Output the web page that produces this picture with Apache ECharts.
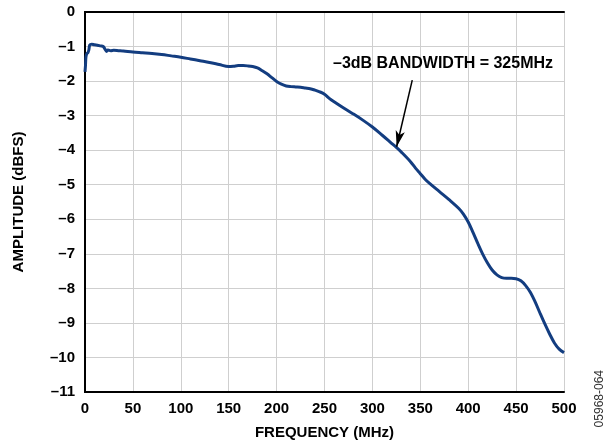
<!DOCTYPE html>
<html>
<head>
<meta charset="utf-8">
<script src="https://cdn.jsdelivr.net/npm/echarts@6/dist/echarts.min.js"></script>
<style>html,body{margin:0;padding:0;background:#fff}#c{width:613px;height:448px}</style>
</head>
<body>
<div id="c"></div>
<script>
const freqMHz = [0,0.5,1,2,3,4,5,7,10,13,16,19,21,22.5,24,27,30,35,40,50,60,70,80,90,100,110,120,130,140,150,155,160,165,170,175,180,185,190,195,200,205,210,215,220,225,230,235,240,245,250,255,260,270,280,290,300,310,320,325,330,340,345,350,355,360,370,380,390,395,400,405,410,415,420,425,430,435,440,445,450,455,460,465,470,475,480,485,490,495,500];
const amplitude = [-1.73,-1.55,-1.3,-1.2,-1.18,-1.1,-0.95,-0.93,-0.95,-0.96,-0.98,-1.0,-1.08,-1.14,-1.1,-1.12,-1.11,-1.12,-1.13,-1.16,-1.18,-1.2,-1.23,-1.27,-1.31,-1.36,-1.41,-1.46,-1.52,-1.58,-1.57,-1.55,-1.55,-1.56,-1.58,-1.62,-1.7,-1.79,-1.9,-2.01,-2.09,-2.14,-2.16,-2.17,-2.18,-2.2,-2.22,-2.26,-2.31,-2.38,-2.5,-2.6,-2.78,-2.95,-3.13,-3.33,-3.56,-3.8,-3.92,-4.05,-4.34,-4.52,-4.68,-4.84,-4.97,-5.2,-5.43,-5.68,-5.85,-6.08,-6.38,-6.7,-7.0,-7.26,-7.47,-7.61,-7.69,-7.71,-7.71,-7.72,-7.78,-7.92,-8.12,-8.4,-8.72,-9.03,-9.32,-9.58,-9.76,-9.86];
const xTicks = {min:0, max:500, interval:50};
const yTicks = {min:-11, max:0, interval:1};
const annotationText = '–3dB BANDWIDTH = 325MHz';
const arrowStart = [341.6, -1.97];
const arrowEnd = [325.3, -3.9];
const labelAt = [373.7, -1.48];

const FONT = 'Liberation Sans, Arial, sans-serif';
const fmtY = v => v < 0 ? '–' + Math.abs(v) : String(v);
const chart = echarts.init(document.getElementById('c'), null, {renderer:'canvas'});
const axisTxt = {fontFamily:FONT, fontWeight:'bold', fontSize:15, color:'#000'};
chart.setOption({
  animation:false,
  grid:{left:85, right:49, top:12, bottom:56},
  xAxis:[{
    type:'value', min:xTicks.min, max:xTicks.max, interval:xTicks.interval,
    name:'FREQUENCY (MHz)', nameLocation:'middle', nameGap:33,
    nameTextStyle:{fontFamily:FONT, fontWeight:'bold', fontSize:15, color:'#000'},
    axisLine:{show:true, onZero:false, lineStyle:{color:'#000', width:2}},
    axisTick:{show:false},
    axisLabel:Object.assign({margin:9}, axisTxt),
    splitLine:{show:true, lineStyle:{color:'#cfcfcf', width:1}}
  },{
    type:'value', position:'top', min:xTicks.min, max:xTicks.max, interval:xTicks.interval,
    axisLine:{show:true, lineStyle:{color:'#000', width:2}},
    axisTick:{show:false}, axisLabel:{show:false}, splitLine:{show:false}
  }],
  yAxis:[{
    type:'value', min:yTicks.min, max:yTicks.max, interval:yTicks.interval,
    name:'AMPLITUDE (dBFS)', nameLocation:'middle', nameGap:59,
    nameTextStyle:{fontFamily:FONT, fontWeight:'bold', fontSize:15, color:'#000'},
    axisLine:{show:true, onZero:false, lineStyle:{color:'#000', width:2}},
    axisTick:{show:false},
    axisLabel:Object.assign({margin:10, formatter:fmtY}, axisTxt),
    splitLine:{show:true, lineStyle:{color:'#cfcfcf', width:1}}
  },{
    type:'value', position:'right', min:yTicks.min, max:yTicks.max, interval:yTicks.interval,
    axisLine:{show:true, lineStyle:{color:'#000', width:2}},
    axisTick:{show:false}, axisLabel:{show:false}, splitLine:{show:false}
  }],
  graphic:[{
    type:'text', right:7, top:370, rotation:Math.PI/2, originX:0, originY:0,
    style:{text:'05968-064', font:'12px ' + FONT, fill:'#333'}
  }],
  series:[{
    type:'line', xAxisIndex:0, yAxisIndex:0,
    data:freqMHz.map((f,i)=>[f, amplitude[i]]),
    showSymbol:false, smooth:0.35,
    lineStyle:{color:'#133d80', width:3},
    z:3,
    markLine:{
      silent:true, symbol:['none','arrow'], symbolSize:[7,16],
      lineStyle:{color:'#000', width:1.5, type:'solid'},
      label:{show:false},
      data:[[{coord:arrowStart},{coord:arrowEnd}]]
    },
    markPoint:{
      silent:true, symbol:'circle', symbolSize:0,
      label:{show:true, position:'inside', formatter:annotationText, fontFamily:FONT, fontWeight:'bold', fontSize:16, color:'#000'},
      data:[{coord:labelAt}]
    }
  }]
});
</script>
</body>
</html>
